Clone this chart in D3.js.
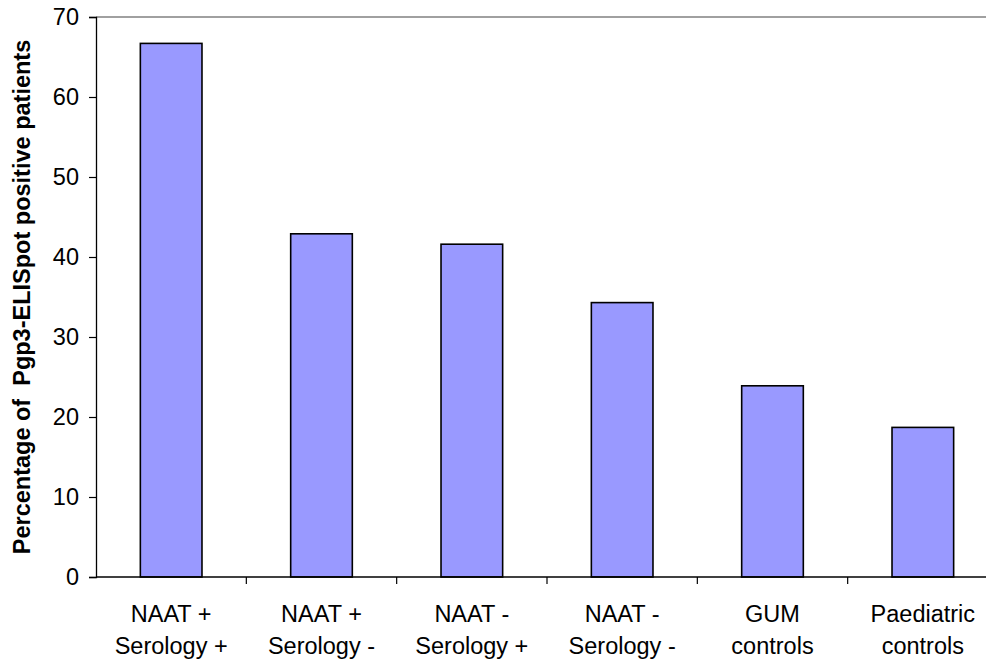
<!DOCTYPE html>
<html>
<head>
<meta charset="utf-8">
<script src="https://cdn.jsdelivr.net/npm/d3@7"></script>
<style>
  html, body { margin: 0; padding: 0; background: #fff; }
  svg { display: block; font-family: Arial, "Liberation Sans", sans-serif; }
</style>
</head>
<body>
<svg id="chart" width="986" height="662"></svg>
<script>
const categories = [
  ["NAAT +", "Serology +"],
  ["NAAT +", "Serology -"],
  ["NAAT -", "Serology +"],
  ["NAAT -", "Serology -"],
  ["GUM", "controls"],
  ["Paediatric", "controls"]
];
const values = [66.7, 42.9, 41.6, 34.3, 23.9, 18.7];
const yTicks = [0, 10, 20, 30, 40, 50, 60, 70];
const yTitle = "Percentage of  Pgp3-ELISpot positive patients";

(function () {
const svg = d3.select("#chart");
const pLeft = 96, pRight = 998, pTop = 17, pBottom = 577;
const fs = 23.5;

const x = d3.scaleBand().domain(d3.range(categories.length)).range([pLeft, pRight]).paddingInner(0.59).paddingOuter(0.295);
const y = d3.scaleLinear().domain([0, 70]).range([pBottom, pTop]);

// top border of plot area
svg.append("line").attr("x1", pLeft).attr("x2", 986).attr("y1", pTop).attr("y2", pTop)
  .attr("stroke", "#808080").attr("stroke-width", 1.5);

// bars
svg.append("g").selectAll("rect").data(values).join("rect")
  .attr("x", (d, i) => x(i))
  .attr("y", d => y(d))
  .attr("width", x.bandwidth())
  .attr("height", d => y(0) - y(d))
  .attr("fill", "#9999FF")
  .attr("stroke", "#000")
  .attr("stroke-width", 1.6);

// y axis
const yAxis = d3.axisLeft(y).tickValues(yTicks).tickSize(7).tickPadding(10).tickFormat(d3.format("d"));
const gy = svg.append("g").attr("transform", `translate(${pLeft},0)`).call(yAxis);
gy.select(".domain").attr("stroke", "#000").attr("stroke-width", 1.3);
gy.selectAll(".tick line").attr("stroke", "#000").attr("stroke-width", 1.2);
gy.selectAll("text").attr("font-size", fs).attr("fill", "#000").attr("font-family", "Arial, 'Liberation Sans', sans-serif");

// x axis with ticks at category boundaries
const xb = d3.scaleLinear().domain([0, categories.length]).range([pLeft, pRight]);
const gx = svg.append("g").attr("transform", `translate(0,${pBottom})`);
gx.append("line").attr("x1", pLeft).attr("x2", 986).attr("y1", 0).attr("y2", 0).attr("stroke", "#000").attr("stroke-width", 1.3);
gx.selectAll("line.tk").data(d3.range(1, categories.length)).join("line").attr("class", "tk")
  .attr("x1", d => xb(d)).attr("x2", d => xb(d)).attr("y1", 0).attr("y2", 7)
  .attr("stroke", "#000").attr("stroke-width", 1.2);

const labels = svg.append("g").selectAll("text").data(categories).join("text")
  .attr("text-anchor", "middle")
  .attr("font-size", fs)
  .attr("fill", "#000");
labels.each(function(d, i) {
  const t = d3.select(this);
  const cx = x(i) + x.bandwidth() / 2;
  d.forEach((line, j) => {
    t.append("tspan").attr("x", cx).attr("y", 622 + j * 32).text(line);
  });
});

// y title
svg.append("text")
  .attr("transform", `translate(30,${(pTop + pBottom) / 2}) rotate(-90)`)
  .attr("text-anchor", "middle")
  .attr("font-size", fs)
  .attr("font-weight", "bold")
  .attr("fill", "#000")
  .attr("xml:space", "preserve")
  .style("white-space", "pre")
  .text(yTitle);
})();
</script>
</body>
</html>
